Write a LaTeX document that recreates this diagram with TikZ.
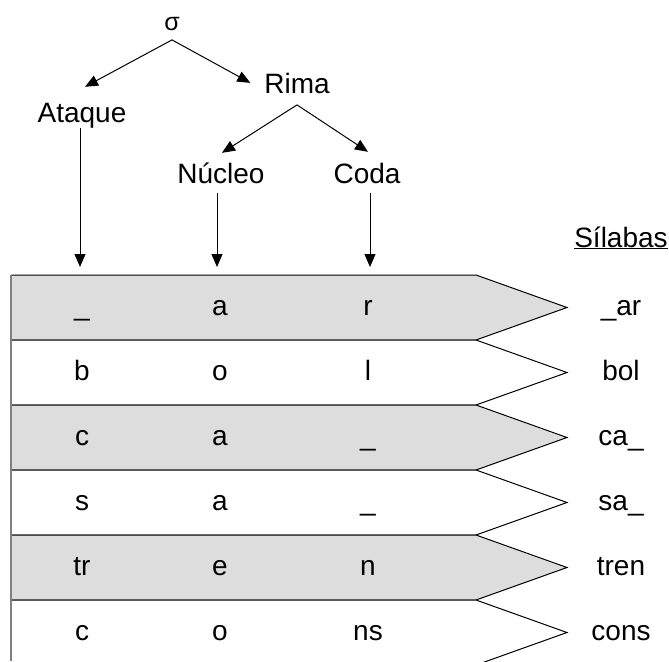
\documentclass[tikz,border=0pt]{standalone}
\usepackage{fontspec}
\setmainfont{Liberation Sans}
\usetikzlibrary{arrows.meta}
\definecolor{rowgray}{HTML}{DDDDDD}
\definecolor{edgegray}{HTML}{808080}
\begin{document}
\begin{tikzpicture}[x=1pt,y=-1pt,
  lbl/.style={font=\fontsize{28}{30}\selectfont, inner sep=0pt, outer sep=0pt,
              text height=20.2pt, text depth=5.9pt, anchor=base},
  arr/.style={-{Triangle[length=13pt,width=11pt]}, line width=1pt},
  rowline/.style={line width=1pt, black},
  leftline/.style={line width=1.5pt, edgegray}]
\useasboundingbox (0,0) rectangle (669,661);
\clip (0,0) rectangle (669,661);
% rows
\foreach \i/\col in {0/rowgray,1/white,2/rowgray,3/white,4/rowgray,5/white}{
  \pgfmathsetmacro\t{275+65*\i}
  \fill[\col] (11,\t) -- (476,\t) -- (567,{\t+32.5}) -- (476,{\t+65}) -- (11,{\t+65}) -- cycle;
  \draw[rowline] (11,\t) -- (476,\t) -- (567,{\t+32.5}) -- (476,{\t+65}) -- (11,{\t+65});
}
\draw[leftline] (11,275) -- (11,661);
\coordinate (rowtop) at (0,275);
% row texts
\foreach \i/\a/\b/\c/\s in {0/\_/a/r/\_ar, 1/b/o/l/bol, 2/c/a/\_/ca\_, 3/s/a/\_/sa\_, 4/tr/e/n/tren, 5/c/o/ns/cons}{
  \pgfmathsetmacro\bl{315+65*\i}
  \node[lbl] (ata\i) at (82,\bl) {\a};
  \node[lbl] (nuc\i) at (220,\bl) {\b};
  \node[lbl] (cod\i) at (368,\bl) {\c};
  \node[lbl] (sil\i) at (621,\bl) {\s};
}
\node[lbl] (silabas) at (621,247) {\underline{Sílabas}};
% tree
\node[lbl, font=\fontsize{25}{27}\selectfont] (sigma) at (172,31) {σ};
\node[lbl] (ataque) at (82,122) {Ataque};
\node[lbl] (rima) at (297,93) {Rima};
\node[lbl] (nucleo) at (221,183) {Núcleo};
\node[lbl] (coda) at (367,183) {Coda};
\draw[arr] ([yshift=-3pt]sigma.south) -- ([xshift=3pt,yshift=15pt]ataque.north);
\draw[arr] ([yshift=-3pt]sigma.south) -- ([xshift=-14pt,yshift=3pt]rima.west);
\draw[arr] ([yshift=-6pt]rima.south) -- ([xshift=1pt,yshift=10pt]nucleo.north);
\draw[arr] ([yshift=-6pt]rima.south) -- ([xshift=1pt,yshift=11pt]coda.north);
\draw[arr, shorten >=8pt] ([xshift=-2pt]ataque.south) -- ([xshift=-2pt]ataque.south |- rowtop);
\draw[arr, shorten >=8pt] ([xshift=-4pt,yshift=-4pt]nucleo.south) -- ([xshift=-4pt]nucleo.south |- rowtop);
\draw[arr, shorten >=8pt] ([xshift=3pt,yshift=-4pt]coda.south) -- ([xshift=3pt]coda.south |- rowtop);
\end{tikzpicture}
\end{document}
